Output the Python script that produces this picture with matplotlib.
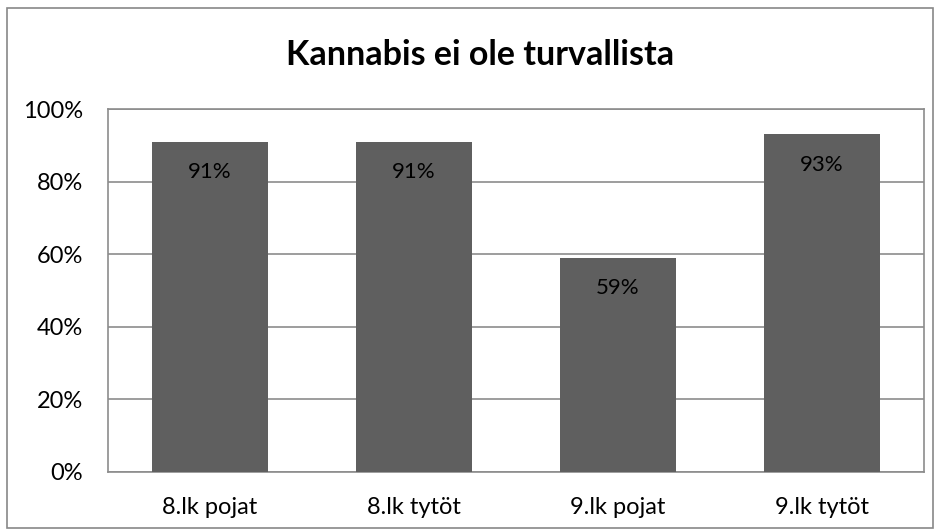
import matplotlib
matplotlib.use("Agg")
import matplotlib.pyplot as plt
from matplotlib.patches import Rectangle
from matplotlib.ticker import FuncFormatter

categories = ["8.lk pojat", "8.lk tytöt", "9.lk pojat", "9.lk tytöt"]
values = [91, 91, 59, 93]
yticks = [0, 20, 40, 60, 80, 100]
title = "Kannabis ei ole turvallista"

plt.rcParams['font.family'] = ['Lato', 'DejaVu Sans']

fig = plt.figure(figsize=(9.41, 5.30), dpi=100)
fig.patches.append(Rectangle((6.5/941, 1 - 528/530), 926/941, 520/530, transform=fig.transFigure,
                             fill=False, edgecolor='#888888', linewidth=1.2))
ax = fig.add_axes([108/941, 1 - 472/530, (924-108)/941, (472-109)/530])

x = list(range(len(categories)))
bars = ax.bar(x, values, width=0.57, color='#5f5f5f', zorder=3)
ax.set_xlim(-0.5, len(categories) - 0.5)
ax.set_ylim(0, 100)
ax.set_yticks(yticks)
ax.yaxis.set_major_formatter(FuncFormatter(lambda v, p: f"{int(v)}%"))
ax.set_xticks(x)
ax.set_xticklabels(categories)
ax.grid(axis='y', color='#8c8c8c', linewidth=1.2, zorder=0)
for s in ax.spines.values():
    s.set_color('#8c8c8c')
    s.set_linewidth(1.2)
ax.tick_params(axis='both', length=0, labelsize=17, colors='black')
ax.tick_params(axis='y', pad=18)
ax.tick_params(axis='x', pad=18)
for b, v in zip(bars, values):
    ax.text(b.get_x() + b.get_width() / 2, v - 8.3, f"{v}%", ha='center', va='center',
            fontsize=16, color='black', zorder=4)
fig.text(480/941, 1 - 55/530, title, ha='center', va='center', fontsize=24.5, fontweight='bold')
fig.savefig("out.png", dpi=100)
